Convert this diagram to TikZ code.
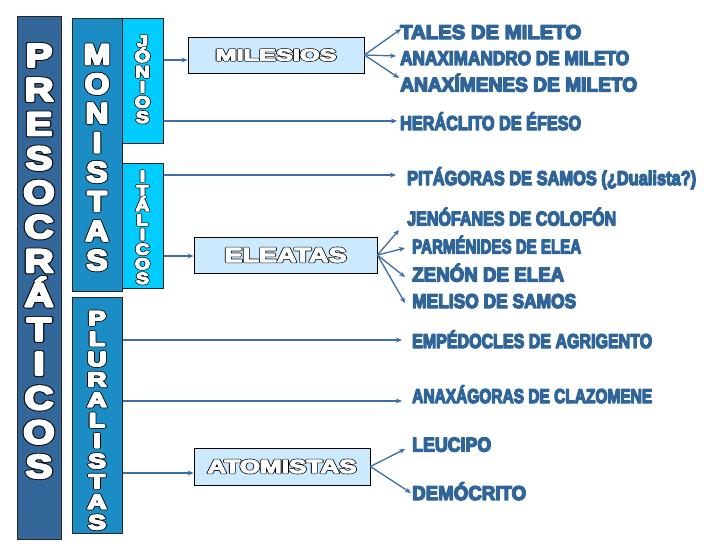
\documentclass[tikz,border=0pt]{standalone}
\usepackage{fontspec}
\usepackage{graphicx}
\usetikzlibrary{arrows.meta}
\newfontfamily\hvo{Liberation Sans Bold}
\definecolor{presoc}{HTML}{336699}
\definecolor{monist}{HTML}{1C8DC4}
\definecolor{jonic}{HTML}{00CCFF}
\definecolor{boxfill}{HTML}{CCEAFF}
\definecolor{labblue}{HTML}{2F6599}
\definecolor{arrblue}{HTML}{3B6EA5}
\def\olw{1}\def\olb{2}
% white letters with a dark outline: a dark copy, stroked wider, under a white copy
\newcommand\olt[2][black]{{\leavevmode\rlap{\color{#1}\special{pdf:literal direct 2 Tr \olb\space w 1 j}#2\special{pdf:literal direct 0 Tr 0 j}}\color{white}\special{pdf:literal direct 2 Tr \olw\space w 1 j}#2\special{pdf:literal direct 0 Tr 0 j}}}
% heavy (stroked) label text
\newcommand\lab[2]{\resizebox{#1pt}{\height}{\special{pdf:literal direct 2 Tr 1.4 w 1 j}#2\special{pdf:literal direct 0 Tr 0 j}}}
\tikzset{
  tallbox/.style={draw=black!85, line width=0.8pt, anchor=north west, inner sep=0pt},
  grpbox/.style={draw=black, line width=0.8pt, fill=boxfill, inner sep=0pt},
  lab/.style={text=labblue, inner sep=0pt, anchor=base west, font=\hvo\fontsize{20}{20}\selectfont},
  vlet/.style={inner sep=0pt, anchor=base},
  arr/.style={draw=arrblue, line width=1.3pt, -{Stealth[length=6pt,width=5pt]}},
}
\begin{document}
\begin{tikzpicture}[x=1pt,y=-1pt]
\useasboundingbox[fill=white] (0,0) rectangle (728,546);
% tall boxes
\node[tallbox, fill=presoc, minimum width=44pt, minimum height=523pt] (presoc) at (17,16) {};
\node[tallbox, fill=monist, minimum width=50pt, minimum height=273pt] (monist) at (72,18) {};
\node[tallbox, fill=jonic, minimum width=41pt, minimum height=125pt] (jonios) at (122,18) {};
\node[tallbox, fill=jonic, minimum width=41pt, minimum height=125pt] (italic) at (122,163) {};
\node[tallbox, fill=monist, minimum width=50pt, minimum height=236pt] (plural) at (72,297) {};
% vertical letters
\foreach \l [count=\i from 0] in {P,R,E,S,O,C,R,Á,T,I,C,O,S}
  \node[vlet, font=\hvo\fontsize{33}{33}\selectfont] (pl\i) at (39,{55+34.25*\i+11.8}) {\def\olw{2.2}\def\olb{4}\scalebox{1.22}[1]{\olt{\l}}};
\foreach \l [count=\i from 0] in {M,O,N,I,S,T,A,S}
  \node[vlet, font=\hvo\fontsize{29}{29}\selectfont] (ml\i) at (97,{54+29.4*\i+10.4}) {\def\olw{2}\def\olb{3.6}\scalebox{1.1}[1]{\olt{\l}}};
\foreach \l [count=\i from 0] in {J,Ó,N,I,O,S}
  \node[vlet, font=\hvo\fontsize{16.5}{16.5}\selectfont] (jl\i) at (142.5,{41+15.2*\i+5.9}) {\def\olw{1.2}\def\olb{2.4}\scalebox{1.2}[1]{\olt{\l}}};
\foreach \l [count=\i from 0] in {I,T,Á,L,I,C,O,S}
  \node[vlet, font=\hvo\fontsize{16}{16}\selectfont] (il\i) at (142.5,{176+14.6*\i+5.7}) {\def\olw{1.2}\def\olb{2.4}\scalebox{1.2}[1]{\olt{\l}}};
\foreach \l [count=\i from 0] in {P,L,U,R,A,L,I,S,T,A,S}
  \node[vlet, font=\hvo\fontsize{20.5}{20.5}\selectfont] (ul\i) at (97,{318+20.4*\i+7.3}) {\def\olw{1.6}\def\olb{3}\scalebox{1.3}[1]{\olt{\l}}};
% group boxes
\node[grpbox, minimum width=176pt, minimum height=36pt, font=\hvo\fontsize{16.5}{16.5}\selectfont] (milesios) at (276,55)
  {\resizebox{121pt}{\height}{\def\olw{0.9}\def\olb{2}\olt{MILESIOS}}};
\node[grpbox, minimum width=183pt, minimum height=36pt, font=\hvo\fontsize{20.5}{20.5}\selectfont] (eleatas) at (285.5,255)
  {\resizebox{122pt}{\height}{\def\olw{1}\def\olb{2.2}\olt{ELEATAS}}};
\node[grpbox, minimum width=176pt, minimum height=37pt, font=\hvo\fontsize{19}{19}\selectfont] (atomistas) at (282,466.5)
  {\resizebox{149pt}{\height}{\def\olw{1}\def\olb{2.2}\olt{ATOMISTAS}}};
% labels
\node[lab] (tales) at (400,39) {\lab{181}{TALES DE MILETO}};
\node[lab] (anaximandro) at (400,65) {\lab{229}{ANAXIMANDRO DE MILETO}};
\node[lab] (anaximenes) at (400,91.5) {\lab{237}{ANAXÍMENES DE MILETO}};
\node[lab] (heraclito) at (400,130) {\lab{181}{HERÁCLITO DE ÉFESO}};
\node[lab] (pitagoras) at (407,185) {\lab{289}{PITÁGORAS DE SAMOS (¿Dualista?)}};
\node[lab] (jenofanes) at (407,225.5) {\lab{209}{JENÓFANES DE COLOFÓN}};
\node[lab] (parmenides) at (412,253.5) {\lab{169}{PARMÉNIDES DE ELEA}};
\node[lab] (zenon) at (412,281.5) {\lab{152}{ZENÓN DE ELEA}};
\node[lab] (meliso) at (412,308) {\lab{164}{MELISO DE SAMOS}};
\node[lab] (empedocles) at (412,348) {\lab{240}{EMPÉDOCLES DE AGRIGENTO}};
\node[lab] (anaxagoras) at (412,403) {\lab{240}{ANAXÁGORAS DE CLAZOMENE}};
\node[lab] (leucipo) at (412,451.5) {\lab{79}{LEUCIPO}};
\node[lab] (democrito) at (412,500) {\lab{114}{DEMÓCRITO}};
% arrow tip coordinates
\coordinate (tTa) at (401,29);
\coordinate (tAm) at (396,56);
\coordinate (tAx) at (399,78);
\coordinate (tHe) at (397,121);
\coordinate (tPi) at (396,175);
\coordinate (tJe) at (399,230);
\coordinate (tPa) at (405,248);
\coordinate (tZe) at (405,277);
\coordinate (tMe) at (405,303);
\coordinate (tEm) at (402,340);
\coordinate (tAg) at (402,401);
\coordinate (tLe) at (405,449);
\coordinate (tDe) at (411,493);
% connectors
\draw[arr] (jonios.east |- 0,60) -- (milesios.west |- 0,60);
\draw[arr] (milesios.east) -- (tTa);
\draw[arr] (milesios.east) -- (tAm);
\draw[arr] (milesios.east) -- (tAx);
\draw[arr] (jonios.east |- tHe) -- (tHe);
\draw[arr] (italic.east |- tPi) -- (tPi);
\draw[arr] (italic.east |- 0,256) -- (eleatas.west |- 0,256);
\draw[arr] (eleatas.east) -- (tJe);
\draw[arr] (eleatas.east) -- (tPa);
\draw[arr] (eleatas.east) -- (tZe);
\draw[arr] (eleatas.east) -- (tMe);
\draw[arr] (plural.east |- tEm) -- (tEm);
\draw[arr] (plural.east |- tAg) -- (tAg);
\draw[arr] (plural.east |- 0,473) -- (atomistas.west |- 0,473);
\draw[arr] (atomistas.east) -- (tLe);
\draw[arr] (atomistas.east) -- (tDe);
\end{tikzpicture}
\end{document}
